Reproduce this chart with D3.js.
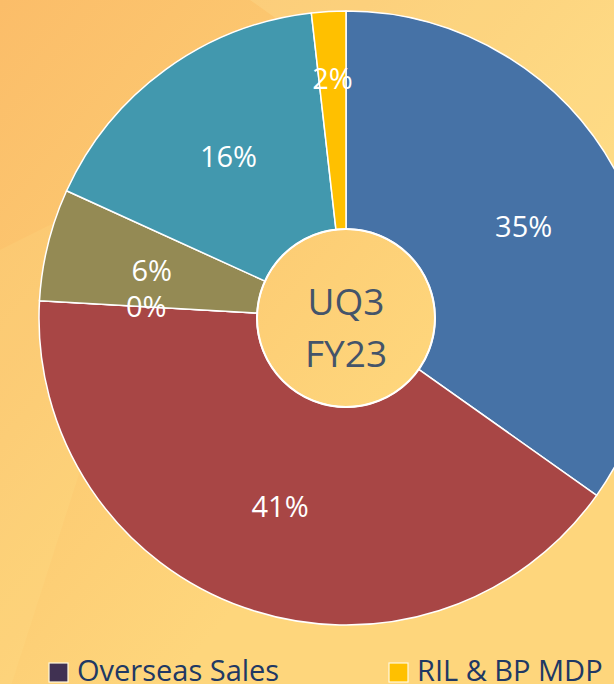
<!DOCTYPE html>
<html>
<head>
<meta charset="utf-8">
<script src="https://cdn.jsdelivr.net/npm/d3@7"></script>
<style>
  html, body { margin: 0; padding: 0; }
  body { width: 614px; height: 684px; overflow: hidden; }
  svg { display: block; }
</style>
</head>
<body>
<svg id="chart"></svg>
<script>
/* Slice data, clockwise from 12 o'clock */
var categories = ["Segment A", "Segment B", "Overseas Sales", "Segment C", "Segment D", "RIL & BP MDP"];
var shares = [34.8, 41.1, 0, 5.9, 16.4, 1.8];
var sliceColors = ["#4672a6", "#a84645", "#403152", "#948a54", "#4298ae", "#ffc000"];

/* Legend entries visible in the picture */
var legendNames = ["Overseas Sales", "RIL & BP MDP"];
var legendColors = ["#403152", "#ffc000"];

/* Centre caption */
var centerLines = ["UQ3", "FY23"];

var width = 614, height = 684;
var cx = 346, cy = 318;
var outerR = 307, innerR = 89;

var svg = d3.select("#chart")
    .attr("width", width)
    .attr("height", height);

// Background gradient
var defs = svg.append("defs");
var grad = defs.append("linearGradient")
    .attr("id", "bg")
    .attr("x1", "0").attr("y1", "0")
    .attr("x2", "0.65").attr("y2", "0.6");
grad.append("stop").attr("offset", "0").attr("stop-color", "#fbbd69");
grad.append("stop").attr("offset", "0.5").attr("stop-color", "#fcc971");
grad.append("stop").attr("offset", "1").attr("stop-color", "#fed67c");

svg.append("rect")
    .attr("width", width)
    .attr("height", height)
    .attr("fill", "url(#bg)");

// faint facets in the background
svg.append("path")
    .attr("d", "M250,0 L614,0 L614,260 Z")
    .attr("fill", "#fff3b0")
    .attr("opacity", 0.18);
svg.append("path")
    .attr("d", "M0,250 L180,160 L0,720 Z")
    .attr("fill", "#fff0a0")
    .attr("opacity", 0.12);

var g = svg.append("g")
    .attr("transform", "translate(" + cx + "," + cy + ")");

var pie = d3.pie().sort(null).value(function(d) { return d; });
var arcs = pie(shares);

var arc = d3.arc().innerRadius(innerR).outerRadius(outerR);

// Slices
g.selectAll("path.slice")
    .data(arcs)
    .enter().append("path")
    .attr("class", "slice")
    .attr("d", arc)
    .attr("fill", function(d, i) { return sliceColors[i]; })
    .attr("stroke", "#ffffff")
    .attr("stroke-width", 1.5);

// Hole border
g.append("circle")
    .attr("r", innerR)
    .attr("fill", "none")
    .attr("stroke", "#ffffff")
    .attr("stroke-width", 2);

// Percentage labels; very thin slices get pushed outward
var labelArc = d3.arc().innerRadius(200).outerRadius(200);
var thinArc = d3.arc().innerRadius(240).outerRadius(240);

g.selectAll("text.pct")
    .data(arcs)
    .enter().append("text")
    .attr("class", "pct")
    .attr("transform", function(d) {
        var c = (d.value > 0 && d.value < 3) ? thinArc.centroid(d) : labelArc.centroid(d);
        return "translate(" + c[0] + "," + c[1] + ")";
    })
    .attr("text-anchor", "middle")
    .attr("dy", "0.36em")
    .attr("fill", "#ffffff")
    .attr("font-family", "'Open Sans', sans-serif")
    .attr("font-size", 29)
    .text(function(d) { return Math.round(d.value) + "%"; });

// Centre caption
g.selectAll("text.center")
    .data(centerLines)
    .enter().append("text")
    .attr("class", "center")
    .attr("x", 0)
    .attr("y", function(d, i) { return -3 + i * 52; })
    .attr("text-anchor", "middle")
    .attr("fill", "#44546a")
    .attr("font-family", "'Open Sans', sans-serif")
    .attr("font-size", 37)
    .text(function(d) { return d; });

// Legend
var legendX = [49, 389];
var lg = svg.append("g");
var item = lg.selectAll("g.item")
    .data(legendNames)
    .enter().append("g")
    .attr("class", "item")
    .attr("transform", function(d, i) { return "translate(" + legendX[i] + ",663)"; });

item.append("rect")
    .attr("width", 19)
    .attr("height", 19)
    .attr("fill", function(d, i) { return legendColors[i]; })
    .attr("stroke", "#fff8e0")
    .attr("stroke-width", 1.2);

item.append("text")
    .attr("x", 28)
    .attr("y", 18)
    .attr("fill", "#203864")
    .attr("font-family", "'Open Sans', sans-serif")
    .attr("font-size", 29)
    .text(function(d) { return d; });
</script>
</body>
</html>
